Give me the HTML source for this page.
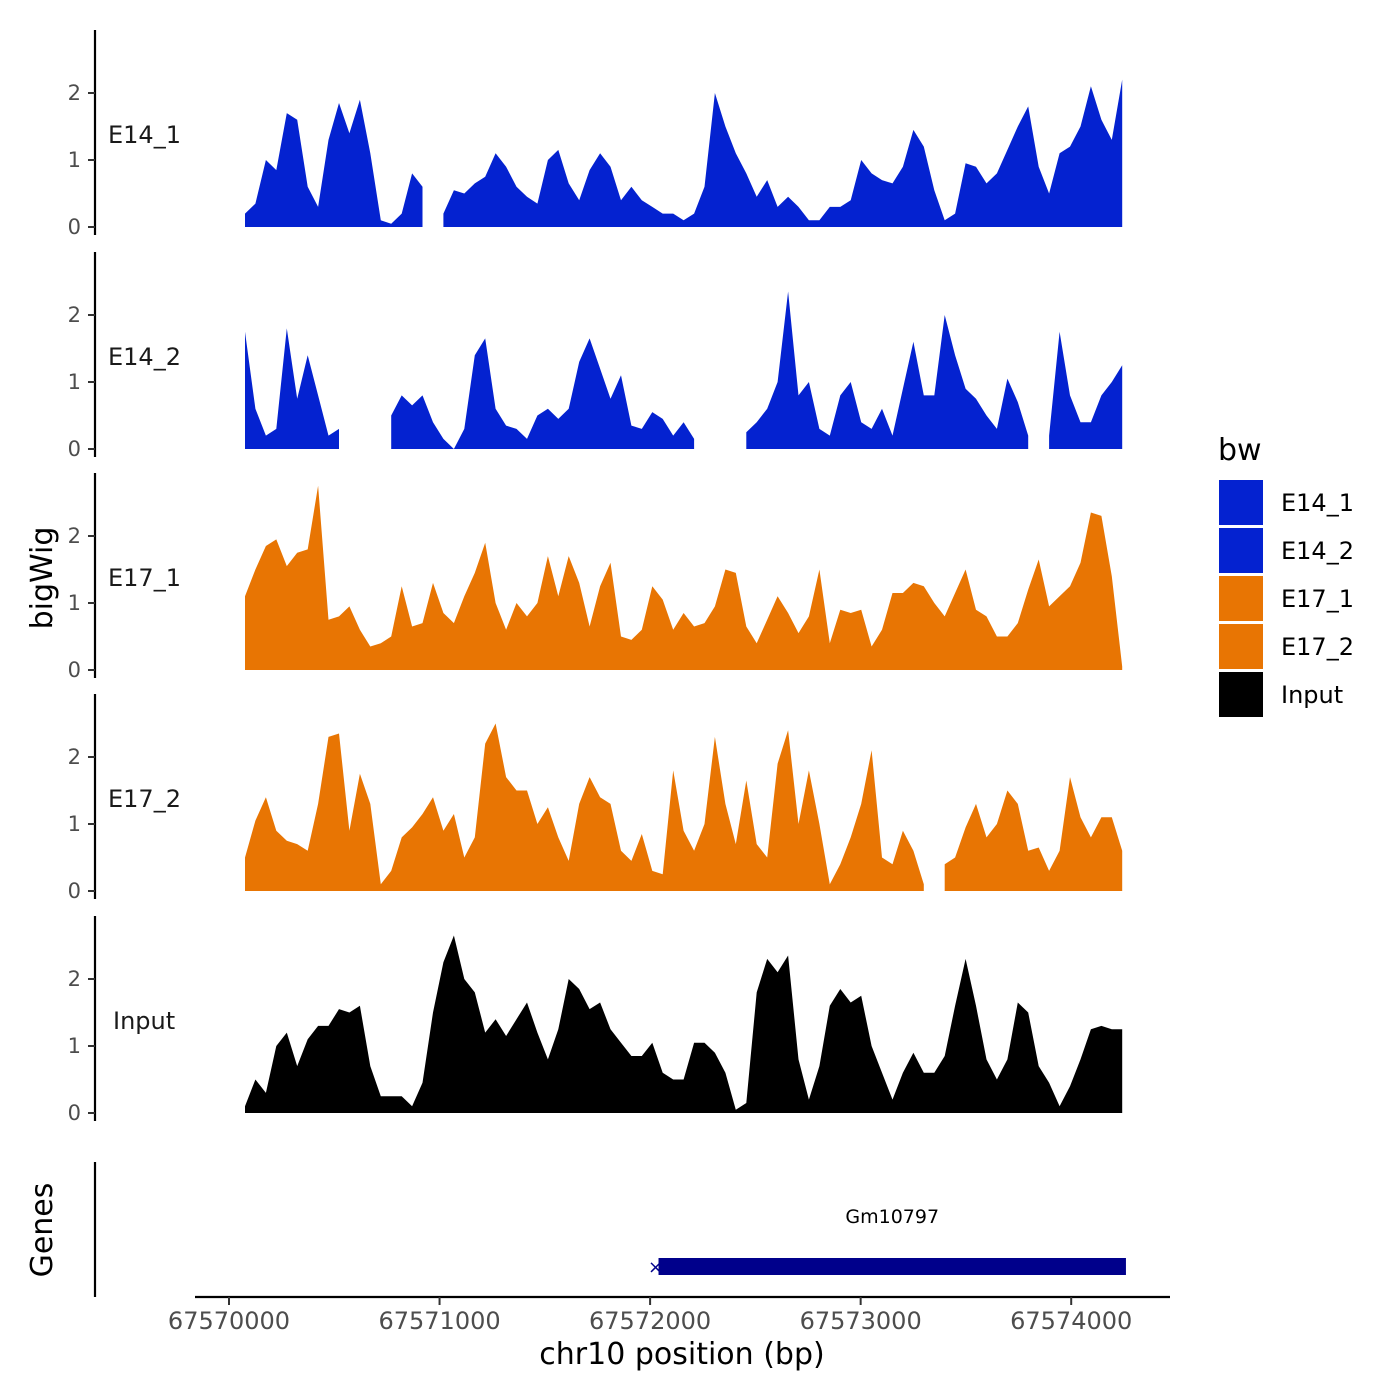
<!DOCTYPE html>
<html><head><meta charset="utf-8"><title>bigWig tracks</title>
<style>html,body{margin:0;padding:0;background:#fff}svg{display:block;font-family:"DejaVu Sans","Liberation Sans",sans-serif}</style>
</head><body>
<svg id="chart" width="1400" height="1400" viewBox="0 0 1400 1400" xmlns="http://www.w3.org/2000/svg"></svg>
<script>
const trackNames = ["E14_1","E14_2","E17_1","E17_2","Input"];
const trackColors = ["#0422d0","#0422d0","#e87503","#e87503","#000000"];
const startBp = 67570076;
const stepBp = 49.6;
const e14_1 = [0.2,0.35,1.0,0.85,1.7,1.6,0.6,0.3,1.3,1.85,1.4,1.9,1.1,0.1,0.05,0.2,0.8,0.6,null,0.2,0.55,0.5,0.65,0.75,1.1,0.9,0.6,0.45,0.35,1.0,1.15,0.65,0.4,0.85,1.1,0.9,0.4,0.6,0.4,0.3,0.2,0.2,0.1,0.2,0.6,2.0,1.5,1.1,0.8,0.45,0.7,0.3,0.45,0.3,0.1,0.1,0.3,0.3,0.4,1.0,0.8,0.7,0.65,0.9,1.45,1.2,0.55,0.1,0.2,0.95,0.9,0.65,0.8,1.15,1.5,1.8,0.9,0.5,1.1,1.2,1.5,2.1,1.6,1.3,2.2];
const e14_2 = [1.75,0.6,0.2,0.3,1.8,0.75,1.4,0.8,0.2,0.3,null,null,null,null,0.5,0.8,0.65,0.8,0.4,0.15,0.0,0.3,1.4,1.65,0.6,0.35,0.3,0.15,0.5,0.6,0.45,0.6,1.3,1.65,1.2,0.75,1.1,0.35,0.3,0.55,0.45,0.2,0.4,0.15,null,null,null,null,0.25,0.4,0.6,1.0,2.35,0.8,1.0,0.3,0.2,0.8,1.0,0.4,0.3,0.6,0.2,0.9,1.6,0.8,0.8,2.0,1.4,0.9,0.75,0.5,0.3,1.05,0.7,0.2,null,0.2,1.75,0.8,0.4,0.4,0.8,1.0,1.25];
const e17_1 = [1.1,1.5,1.85,1.95,1.55,1.75,1.8,2.75,0.75,0.8,0.95,0.6,0.35,0.4,0.5,1.25,0.65,0.7,1.3,0.85,0.7,1.1,1.45,1.9,1.0,0.6,1.0,0.8,1.0,1.7,1.1,1.7,1.3,0.65,1.25,1.6,0.5,0.45,0.6,1.25,1.05,0.6,0.85,0.65,0.7,0.95,1.5,1.45,0.65,0.4,0.75,1.1,0.85,0.55,0.8,1.5,0.4,0.9,0.85,0.9,0.35,0.6,1.15,1.15,1.3,1.25,1.0,0.8,1.15,1.5,0.9,0.8,0.5,0.5,0.7,1.2,1.65,0.95,1.1,1.25,1.6,2.35,2.3,1.4,0.05];
const e17_2 = [0.5,1.05,1.4,0.9,0.75,0.7,0.6,1.3,2.3,2.35,0.9,1.75,1.3,0.1,0.3,0.8,0.95,1.15,1.4,0.9,1.15,0.5,0.8,2.2,2.5,1.7,1.5,1.5,1.0,1.25,0.8,0.45,1.3,1.7,1.4,1.3,0.6,0.45,0.85,0.3,0.25,1.8,0.9,0.6,1.0,2.3,1.3,0.7,1.65,0.7,0.5,1.9,2.4,1.0,1.8,1.0,0.1,0.4,0.8,1.3,2.1,0.5,0.4,0.9,0.6,0.1,null,0.4,0.5,0.95,1.3,0.8,1.0,1.5,1.3,0.6,0.65,0.3,0.6,1.7,1.1,0.8,1.1,1.1,0.6];
const inputVals = [0.1,0.5,0.3,1.0,1.2,0.7,1.1,1.3,1.3,1.55,1.5,1.6,0.7,0.25,0.25,0.25,0.1,0.45,1.5,2.25,2.65,2.0,1.8,1.2,1.4,1.15,1.4,1.65,1.2,0.8,1.25,2.0,1.85,1.55,1.65,1.25,1.05,0.85,0.85,1.05,0.6,0.5,0.5,1.05,1.05,0.9,0.6,0.05,0.15,1.8,2.3,2.1,2.35,0.8,0.2,0.7,1.6,1.85,1.65,1.75,1.0,0.6,0.2,0.6,0.9,0.6,0.6,0.85,1.6,2.3,1.6,0.8,0.5,0.8,1.65,1.5,0.7,0.45,0.1,0.4,0.8,1.25,1.3,1.25,1.25];
const yTicks = [0,1,2];
const xTicks = [67570000,67571000,67572000,67573000,67574000];
const geneName = "Gm10797";
const geneStart = 67572040;
const geneEnd = 67574260;

const series = [e14_1,e14_2,e17_1,e17_2,inputVals];
const svg = document.getElementById('chart');
const NS = "http://www.w3.org/2000/svg";
function mk(tag, attrs, text){const e=document.createElementNS(NS,tag);for(const k in attrs)e.setAttribute(k,attrs[k]);if(text!==undefined)e.textContent=text;svg.appendChild(e);return e;}
const xScale = bp => 229 + (bp - 67570000) * 0.21055;
const zeros = [227,449,670,891,1113];
const unitPx = 67;
const yScale = (t, v) => zeros[t] - v * unitPx;

series.forEach((vals, t) => {
  const ax = mk('line',{x1:95,x2:95,y1:zeros[t]-197,y2:zeros[t]+8,stroke:'#000','stroke-width':2.2});
  
  
  yTicks.forEach(v => {
    const tk = mk('line',{x1:88,x2:95,y1:yScale(t,v),y2:yScale(t,v),stroke:'#333','stroke-width':2});
    
    
    const lb = mk('text',{x:81,y:yScale(t,v)+7,'text-anchor':'end','font-size':21,fill:'#4d4d4d'},String(v));
    
    
  });
  const nm = mk('text',{x:t===4?113:108,y:zeros[t]-84,'font-size':24,fill:'#1a1a1a'},trackNames[t]);
  
  
  let run = [];
  const flush = () => {
    if (run.length > 1) {
      let d = 'M' + xScale(run[0][0]).toFixed(1) + ',' + zeros[t];
      run.forEach(p => { d += 'L' + xScale(p[0]).toFixed(1) + ',' + yScale(t,p[1]).toFixed(1); });
      d += 'L' + xScale(run[run.length-1][0]).toFixed(1) + ',' + zeros[t] + 'Z';
      const a = mk('path',{d:d,fill:trackColors[t]});
      
      
    }
    run = [];
  };
  vals.forEach((v, i) => {
    const bp = startBp + stepBp * i;
    if (v === null) flush(); else run.push([bp, v]);
  });
  flush();
});

const gax = mk('line',{x1:95,x2:95,y1:1162,y2:1297,stroke:'#000','stroke-width':2.2});


const gbar = mk('rect',{x:xScale(geneStart),y:1258,width:xScale(geneEnd)-xScale(geneStart),height:17,fill:'#00008b'});


const gl = mk('text',{x:(xScale(geneStart)+xScale(geneEnd))/2,y:1223,'text-anchor':'middle','font-size':19,fill:'#000'},geneName);


const gs = mk('text',{x:xScale(geneStart)-3,y:1273,'text-anchor':'middle','font-size':18,fill:'#00008b'},'×');



const xl = mk('line',{x1:195,x2:1170,y1:1297,y2:1297,stroke:'#000','stroke-width':2.2});


xTicks.forEach(bp => {
  const tk = mk('line',{x1:xScale(bp),x2:xScale(bp),y1:1297,y2:1305,stroke:'#333','stroke-width':2});
  
  
  const lb = mk('text',{x:xScale(bp),y:1329,'text-anchor':'middle','font-size':24,fill:'#4d4d4d'},String(bp));
  
  
});
const xt = mk('text',{x:682,y:1364,'text-anchor':'middle','font-size':30,fill:'#000'},'chr10 position (bp)');


const yt = mk('text',{x:0,y:0,'text-anchor':'middle','font-size':30,fill:'#000',transform:'translate(52,578) rotate(-90)'},'bigWig');


const gt = mk('text',{x:0,y:0,'text-anchor':'middle','font-size':30,fill:'#000',transform:'translate(52,1230) rotate(-90)'},'Genes');



const lt = mk('text',{x:1218,y:460,'font-size':30,fill:'#000'},'bw');


trackNames.forEach((n, i) => {
  const y = 480 + i * 48;
  const r = mk('rect',{x:1219,y:y,width:44,height:45,fill:trackColors[i]});
  
  
  const tx = mk('text',{x:1281,y:y+31,'font-size':24,fill:'#000'},n);
  
  
});
</script>
</body></html>
